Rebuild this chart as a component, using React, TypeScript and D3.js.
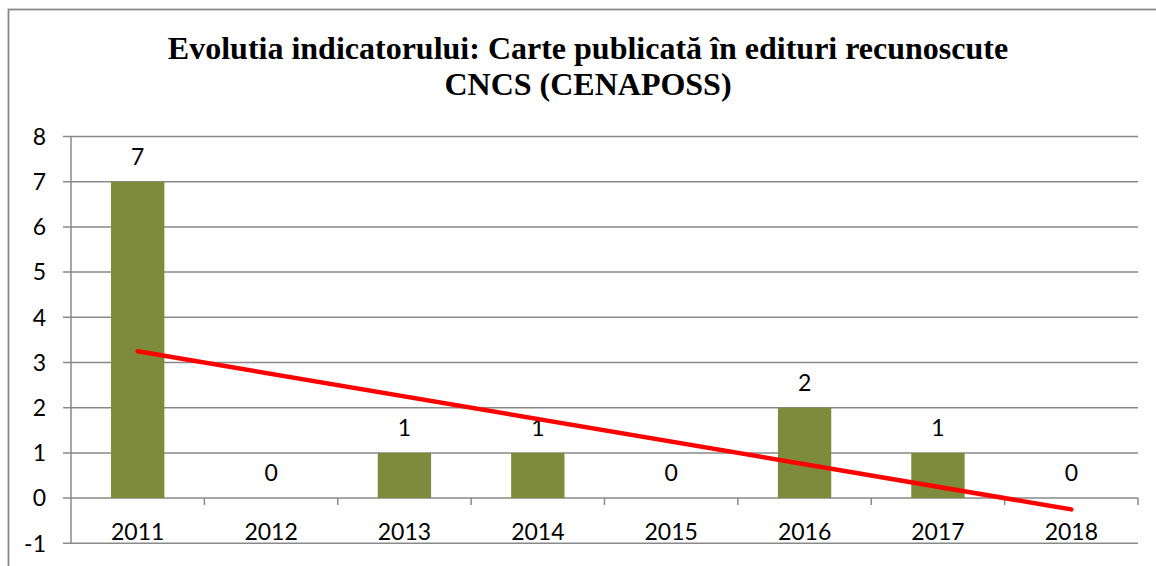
import React from "react";
import * as d3 from "d3";

const categories = ["2011", "2012", "2013", "2014", "2015", "2016", "2017", "2018"];
const values = [7, 0, 1, 1, 0, 2, 1, 0];
const yTicks = [-1, 0, 1, 2, 3, 4, 5, 6, 7, 8];
const titleLines = ["Evolutia indicatorului: Carte publicată în edituri recunoscute", "CNCS (CENAPOSS)"];

const W = 1156;
const H = 566;
const plot = { left: 71, right: 1138, top: 136.5, bottom: 543.3 };
const gray = "#898989";
const font = "Lato, 'Open Sans', sans-serif";

export default function App() {
  const x = d3.scaleBand<string>().domain(categories).range([plot.left, plot.right]).paddingInner(0.6).paddingOuter(0.3);
  const xb = d3.scaleBand<string>().domain(categories).range([plot.left, plot.right]);
  const y = d3.scaleLinear().domain([-1, 8]).range([plot.bottom, plot.top]);

  // linear trendline (least squares)
  const xs = values.map((_, i) => i + 1);
  const mx = d3.mean(xs)!;
  const my = d3.mean(values)!;
  const slope = d3.sum(xs.map((v, i) => (v - mx) * (values[i] - my))) / d3.sum(xs.map((v) => (v - mx) ** 2));
  const icpt = my - slope * mx;
  const trendPts: [number, number][] = [1, categories.length].map((k) => [
    xb(categories[k - 1])! + xb.bandwidth() / 2,
    y(icpt + slope * k),
  ]);
  const line = d3.line();

  return (
    <svg width={W} height={H} style={{ position: "absolute", left: 0, top: 0, background: "#fff" }}>
      <rect x={8.5} y={9.5} width={1200} height={700} fill="#fff" stroke={gray} strokeWidth={1.8} />
      {titleLines.map((t, i) => (
        <text key={i} x={588} y={59 + i * 36} textAnchor="middle" fontFamily="'Liberation Serif', 'Times New Roman', serif" fontWeight="bold" fontSize={32}>
          {t}
        </text>
      ))}
      {yTicks.map((t) => (
        <g key={t}>
          <line x1={63} x2={plot.right} y1={y(t)} y2={y(t)} stroke={gray} strokeWidth={1.5} />
          <text x={46} y={y(t)} dy="0.36em" textAnchor="end" fontFamily={font} fontSize={23}>
            {t}
          </text>
        </g>
      ))}
      <line x1={plot.left} x2={plot.left} y1={plot.top} y2={plot.bottom} stroke={gray} strokeWidth={1.5} />
      {categories.map((c) => (
        <line key={"tk" + c} x1={xb(c)! + xb.bandwidth()} x2={xb(c)! + xb.bandwidth()} y1={y(0)} y2={y(0) + 7} stroke={gray} strokeWidth={1.5} />
      ))}
      {categories.map((c, i) => (
        <g key={c}>
          {values[i] > 0 && (
            <rect x={x(c)!} width={x.bandwidth()} y={y(values[i])} height={y(0) - y(values[i])} fill="#7F8B3C" />
          )}
          <text x={x(c)! + x.bandwidth() / 2} y={y(values[i]) - 25} dy="0.36em" textAnchor="middle" fontFamily={font} fontSize={23}>
            {values[i]}
          </text>
          <text x={xb(c)! + xb.bandwidth() / 2} y={532} dy="0.36em" textAnchor="middle" fontFamily={font} fontSize={23}>
            {c}
          </text>
        </g>
      ))}
      <path d={line(trendPts)!} stroke="#FF0000" strokeWidth={4.5} fill="none" strokeLinecap="round" />
    </svg>
  );
}
